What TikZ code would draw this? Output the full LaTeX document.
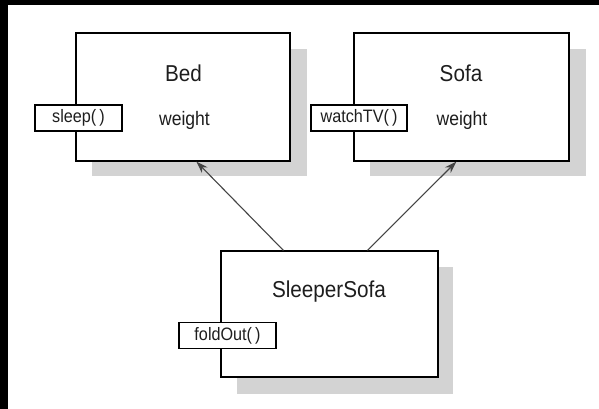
\documentclass[tikz,border=0pt]{standalone}
\usepackage{fontspec}
\setmainfont{Liberation Sans}[FakeStretch=0.9]
\usetikzlibrary{calc,arrows.meta}
\definecolor{shade}{HTML}{D3D3D3}
\definecolor{ink}{HTML}{1E1E1E}
\definecolor{wire}{HTML}{444444}
\tikzset{
  classbox/.style={draw=black, line width=1.2pt, fill=white, inner sep=0pt},
  methodbox/.style={draw=black, line width=1.1pt, fill=white, inner sep=0pt,
    minimum height=26pt, font=\fontsize{18}{18}\selectfont, text=ink},
  clsname/.style={font=\fontsize{23}{23}\selectfont, text=ink, inner sep=0pt},
  attr/.style={font=\fontsize{19.5}{19.5}\selectfont, text=ink, inner sep=0pt},
  shadow/.style={fill=shade, draw=none},
  inherit/.style={draw=wire, line width=1.1pt, -{Stealth[length=12pt,width=8pt]}}
}
\begin{document}
\begin{tikzpicture}[x=1pt, y=-1pt]
  \useasboundingbox (0,0) rectangle (599,409);
  \fill[white] (0,0) rectangle (599,409);
  % dark frame strips
  \fill[black] (0,0) rectangle (8,409);
  \fill[black] (0,0) rectangle (599,5);

  % drop shadows
  \fill[shadow] (92,49) rectangle (307,176);
  \fill[shadow] (370,49) rectangle (586,176);
  \fill[shadow] (237,267) rectangle (453,394);

  % class boxes
  \node[classbox, minimum width=214pt, minimum height=128pt] (bed) at (183,97) {};
  \node[classbox, minimum width=215pt, minimum height=128pt] (sofa) at (461.5,97) {};
  \node[classbox, minimum width=217pt, minimum height=126pt] (ss) at (329.5,314) {};

  % class names and attributes
  \node[clsname] (bedname) at (183.5,73) {Bed};
  \node[attr] (bedw) at (184.5,120) {weight};
  \node[clsname] (sofaname) at (461,73) {Sofa};
  \node[attr] (sofaw) at (462,120) {weight};
  \node[clsname] (ssname) at (329,292) {SleeperSofa};

  % operations
  \node[methodbox, minimum width=87pt] (sleep) at (78.5,118) {sleep(\,)};
  \node[methodbox, minimum width=96pt] (watch) at (359,118) {watchTV(\,)};
  \node[methodbox, minimum width=97pt] (fold) at (227.5,335.5) {foldOut(\,)};

  % generalisation arrows
  \draw[inherit] ($(ss.north west)+(63,0)$) -- ($(bed.south west)+(121,0)$);
  \draw[inherit] ($(ss.north west)+(147,0)$) -- ($(sofa.south west)+(103,0)$);
\end{tikzpicture}
\end{document}
